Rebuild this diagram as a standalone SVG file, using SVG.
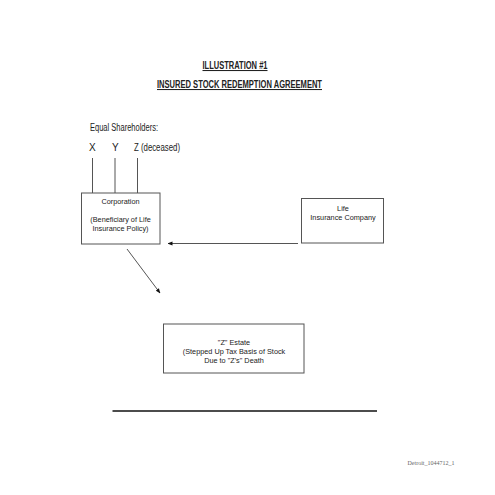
<svg xmlns="http://www.w3.org/2000/svg" width="495" height="495" viewBox="0 0 495 495">
<style>
text{font-family:"Liberation Sans Narrow","Liberation Sans",Arial,sans-serif;fill:#222}
.t{font-size:10.5px;font-weight:bold;text-anchor:middle;text-decoration:underline}
.s{font-size:10px}
.b{font-size:7.3px;text-anchor:middle}
.box{fill:#fff;stroke:#555;stroke-width:1}
.ln{stroke:#555;stroke-width:1;fill:none}
</style>
<defs>
<marker id="ah" viewBox="0 0 10 10" refX="9" refY="5" markerWidth="5" markerHeight="5" orient="auto">
<path d="M0,1 L10,5 L0,9 z" fill="#111"/>
</marker>
</defs>
<rect width="495" height="495" fill="#fff"/>
<g id="title">
<text class="t" x="235" y="69" textLength="65" lengthAdjust="spacingAndGlyphs">ILLUSTRATION #1</text>
<text class="t" x="239.5" y="88" textLength="165" lengthAdjust="spacingAndGlyphs">INSURED STOCK REDEMPTION AGREEMENT</text>
</g>
<g id="shareholders">
<text class="s" x="90" y="131" textLength="68" lengthAdjust="spacingAndGlyphs">Equal Shareholders:</text>
<text class="s" x="89" y="151">X</text>
<text class="s" x="112" y="151">Y</text>
<text class="s" x="134" y="151" textLength="46" lengthAdjust="spacingAndGlyphs">Z (deceased)</text>
</g>
<g id="connectors">
<line class="ln" x1="92.5" y1="158" x2="92.5" y2="193"/>
<line class="ln" x1="115" y1="158" x2="115" y2="193"/>
<line class="ln" x1="137.5" y1="158" x2="137.5" y2="193"/>
<line class="ln" x1="298" y1="243.5" x2="168" y2="243.5" marker-end="url(#ah)"/>
<line class="ln" x1="127" y1="249" x2="160" y2="293" marker-end="url(#ah)"/>
<line x1="112.5" y1="411" x2="377" y2="411" stroke="#111" stroke-width="1.5"/>
</g>
<g id="corporation">
<rect class="box" x="81.5" y="193" width="78.5" height="51"/>
<text class="b" x="120.5" y="204">Corporation</text>
<text class="b" x="120.5" y="222">(Beneficiary of Life</text>
<text class="b" x="120.5" y="231">Insurance Policy)</text>
</g>
<g id="life">
<rect class="box" x="301.5" y="198.5" width="82" height="44.5"/>
<text class="b" x="343" y="211">Life</text>
<text class="b" x="343" y="220">Insurance Company</text>
</g>
<g id="estate">
<rect class="box" x="163.5" y="324" width="140.5" height="49"/>
<text class="b" x="234" y="345">"Z" Estate</text>
<text class="b" x="234" y="354">(Stepped Up Tax Basis of Stock</text>
<text class="b" x="234" y="363">Due to "Z's" Death</text>
</g>
<text x="431" y="465" font-size="6" text-anchor="middle" style="font-family:'Liberation Serif',serif;fill:#666">Detroit_1044712_1</text>
</svg>
